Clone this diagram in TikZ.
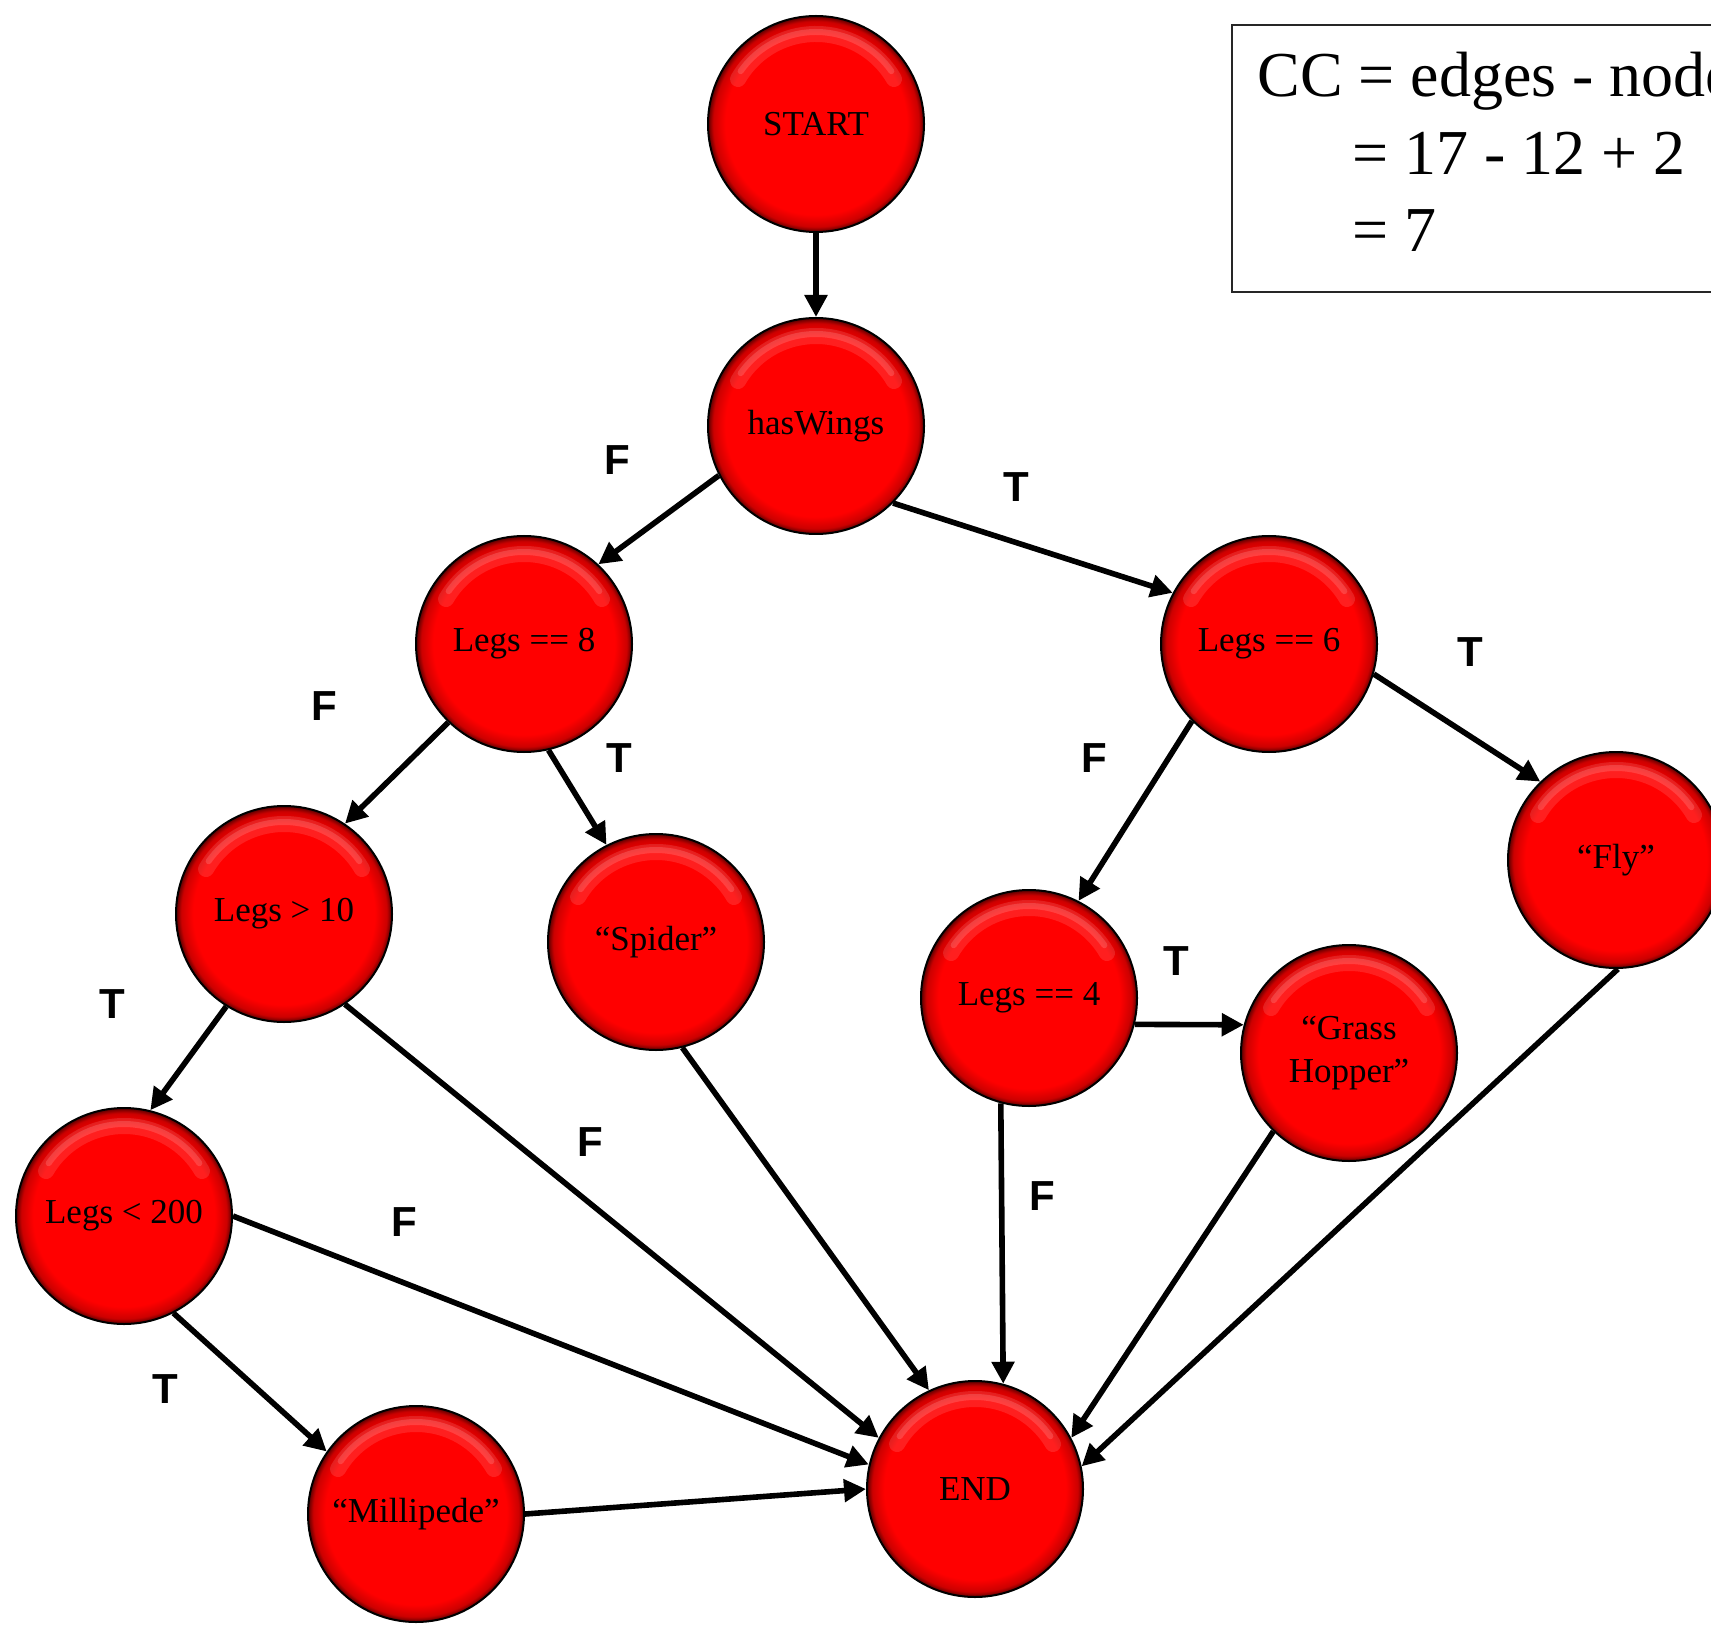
\documentclass[tikz,border=0pt]{standalone}
\usepackage{fontspec}
\setmainfont{Liberation Serif}
\newfontfamily\lblfont{Liberation Sans}
\usetikzlibrary{arrows.meta}
\pgfdeclareradialshading{redball}{\pgfpoint{0bp}{0bp}}{color(0bp)=(red); color(21bp)=(red); color(23.8bp)=(red!80!black); color(25bp)=(red!35!black); color(50bp)=(red!35!black)}
\begin{document}
\begin{tikzpicture}[x=0.5pt,y=-0.5pt,
 ball/.style={circle, draw=black, line width=1pt, minimum size=108pt, inner sep=0pt, shade, shading=redball, align=center,
   font=\fontsize{17.5}{21.5}\selectfont,
   path picture={
     \draw[white,opacity=0.12,line width=8pt,line cap=round] (path picture bounding box.center) ++(150:45pt) arc[start angle=150,end angle=30,radius=45pt];
     \draw[white,opacity=0.15,line width=3pt,line cap=round] (path picture bounding box.center) ++(145:46pt) arc[start angle=145,end angle=35,radius=46pt];}},
 conn/.style={line width=2.8pt, -{Triangle[length=11pt,width=11pt]}},
 lbl/.style={font=\lblfont\bfseries\fontsize{21}{21}\selectfont, inner sep=0pt},
 cctext/.style={anchor=base west, inner sep=0pt, font=\fontsize{32}{39}\selectfont}]
\useasboundingbox (0,0) rectangle (1711,1625);

\begin{scope}
\clip (0,0) rectangle (1711,1625);
\node (ccbox) [draw=black!85, line width=1pt, anchor=north west, minimum width=265pt, minimum height=133.5pt, inner sep=0pt] at (1231,24) {};
\node[cctext] (cc1) at (1257,97) {CC = edges - nodes + 2};
\node[cctext] (cc2) at (1352,175) {= 17 - 12 + 2};
\node[cctext] (cc3) at (1352,252) {= 7};
\end{scope}

\node[ball] (start) at (816,124) {START};
\node[ball] (hw) at (816,426) {hasWings};
\node[ball] (l8) at (524,644) {Legs == 8};
\node[ball] (l6) at (1269,644) {Legs == 6};
\node[ball] (l10) at (284,914) {Legs > 10};
\node[ball] (spider) at (656,942) {“Spider”};
\node[ball] (l4) at (1029,998) {Legs == 4};
\node[ball] (grass) at (1349,1053) {“Grass\\Hopper”};
\node[ball] (fly) at (1616,860) {“Fly”};
\node[ball] (l200) at (124,1216) {Legs < 200};
\node[ball] (mill) at (416,1514) {“Millipede”};
\node[ball] (end) at (975,1489) {END};

\draw[conn] (start.-90) -- (hw.90);
\draw[conn] (hw.207) -- (l8.47);
\draw[conn] (hw.-45) -- (l6.152);
\draw[conn] (l8.226) -- (l10.56);
\draw[conn] (l8.-77) -- (spider.117);
\draw[conn] (l6.225) -- (l4.63);
\draw[conn] (l6.-16) -- (fly.134);
\draw[conn] (l10.238) -- (l200.76);
\draw[conn] (l10.-56) -- (end.152);
\draw[conn] (spider.-76) -- (end.115);
\draw[conn] (l4.-14.5) -- (grass.165.5);
\draw[conn] (l4.255.5) -- (end.75.5);
\draw[conn] (grass.226) -- (end.28);
\draw[conn] (fly.-89) -- (end.12);
\draw[conn] (l200.0) -- (end.167);
\draw[conn] (l200.-63) -- (mill.145);
\draw[conn] (mill.0) -- (end.180);

\node[lbl] (f1) at (617,460) {F};
\node[lbl] (t1) at (1016,487) {T};
\node[lbl] (f2) at (324,706) {F};
\node[lbl] (t2) at (619,758) {T};
\node[lbl] (t3) at (1470,652) {T};
\node[lbl] (f3) at (1094,758) {F};
\node[lbl] (t4) at (112,1004) {T};
\node[lbl] (f4) at (590,1142) {F};
\node[lbl] (t5) at (1176,961) {T};
\node[lbl] (f5) at (1042,1196) {F};
\node[lbl] (f6) at (404,1222) {F};
\node[lbl] (t6) at (165,1389) {T};
\end{tikzpicture}
\end{document}
